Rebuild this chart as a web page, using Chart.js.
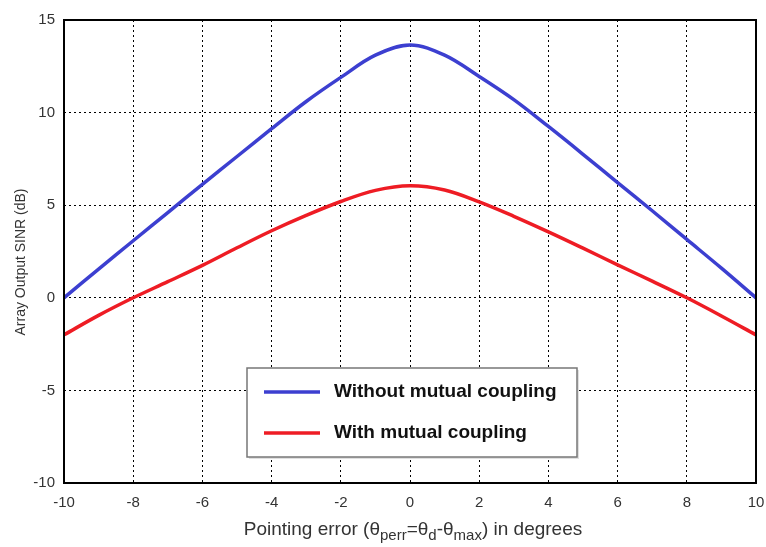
<!DOCTYPE html>
<html>
<head>
<meta charset="utf-8">
<script src="https://cdn.jsdelivr.net/npm/chart.js@4.4.0/dist/chart.umd.min.js"></script>
<style>
  html, body { margin: 0; padding: 0; background: #fff; }
  #wrap { width: 766px; height: 547px; }
</style>
</head>
<body>
<div id="wrap"><canvas id="sinrChart" width="766" height="547"></canvas></div>
<script>
// Dados
const pointingError = [-10, -9, -8, -7, -6, -5, -4, -3, -2, -1, 0, 1, 2, 3, 4, 5, 6, 7, 8, 9, 10];
const semAcoplamento = [0, 1.55, 3.08, 4.6, 6.13, 7.63, 9.13, 10.6, 11.9, 13.1, 13.65, 13.1, 11.95, 10.7, 9.25, 7.75, 6.22, 4.7, 3.15, 1.6, 0];
const comAcoplamento = [-2, -0.95, 0, 0.87, 1.75, 2.7, 3.62, 4.45, 5.2, 5.8, 6.05, 5.82, 5.18, 4.4, 3.56, 2.68, 1.78, 0.9, 0, -0.98, -2];
const xTicks = [-10, -8, -6, -4, -2, 0, 2, 4, 6, 8, 10];
const yTicks = [-10, -5, 0, 5, 10, 15];
const legendLabels = ['Without mutual coupling', 'With mutual coupling'];

const corAzul = '#3c3fd0';
const corVermelha = '#ee1c24';

function toPoints(ys) {
    return pointingError.map((x, i) => ({ x: x, y: ys[i] }));
}

// Plugin: moldura, títulos dos eixos e legenda interna
const extras = {
    id: 'extras',
    afterDatasetsDraw(chart) {
        const ctx = chart.ctx;
        const a = chart.chartArea;
        ctx.save();

        // moldura
        ctx.strokeStyle = '#000';
        ctx.lineWidth = 2;
        ctx.strokeRect(a.left, a.top, a.right - a.left, a.bottom - a.top);

        // título do eixo Y
        ctx.fillStyle = '#333';
        ctx.font = '14px "Liberation Sans", Arial, sans-serif';
        ctx.textAlign = 'center';
        ctx.textBaseline = 'middle';
        ctx.translate(21, 262);
        ctx.rotate(-Math.PI / 2);
        ctx.fillText('Array Output SINR (dB)', 0, 0);
        ctx.setTransform(1, 0, 0, 1, 0, 0);

        // título do eixo X com subscritos
        const partes = [
            ['Pointing error (θ', false], ['perr', true], ['=θ', false], ['d', true],
            ['-θ', false], ['max', true], [') in degrees', false]
        ];
        const fNormal = '19px "Liberation Sans", Arial, sans-serif';
        const fSub = '15px "Liberation Sans", Arial, sans-serif';
        let total = 0;
        partes.forEach(p => { ctx.font = p[1] ? fSub : fNormal; total += ctx.measureText(p[0]).width; });
        let x = 413 - total / 2;
        const yBase = 535;
        ctx.textAlign = 'left';
        ctx.textBaseline = 'alphabetic';
        partes.forEach(p => {
            ctx.font = p[1] ? fSub : fNormal;
            ctx.fillText(p[0], x, p[1] ? yBase + 5 : yBase);
            x += ctx.measureText(p[0]).width;
        });

        // legenda
        const bx = 247, by = 368, bw = 330, bh = 89;
        ctx.fillStyle = 'rgba(0,0,0,0.12)';
        ctx.fillRect(bx + 2, by + 2, bw, bh);
        ctx.fillStyle = '#fff';
        ctx.fillRect(bx, by, bw, bh);
        ctx.strokeStyle = '#777';
        ctx.lineWidth = 1.5;
        ctx.strokeRect(bx, by, bw, bh);
        const linhasY = [392, 433];
        chart.data.datasets.forEach((ds, i) => {
            ctx.strokeStyle = ds.borderColor;
            ctx.lineWidth = 3.5;
            ctx.beginPath();
            ctx.moveTo(264, linhasY[i]);
            ctx.lineTo(320, linhasY[i]);
            ctx.stroke();
            ctx.fillStyle = '#111';
            ctx.font = 'bold 19px "Liberation Sans", Arial, sans-serif';
            ctx.textBaseline = 'middle';
            ctx.fillText(ds.label, 334, linhasY[i]);
        });
        ctx.restore();
    }
};

const gridDotted = {
    display: true,
    color: '#000',
    lineWidth: 1,
    drawTicks: false
};

new Chart(document.getElementById('sinrChart'), {
    type: 'line',
    data: {
        datasets: [
            {
                label: legendLabels[0],
                data: toPoints(semAcoplamento),
                borderColor: corAzul,
                borderWidth: 3.5,
                pointRadius: 0,
                tension: 0.35,
                fill: false
            },
            {
                label: legendLabels[1],
                data: toPoints(comAcoplamento),
                borderColor: corVermelha,
                borderWidth: 3.5,
                pointRadius: 0,
                tension: 0.35,
                fill: false
            }
        ]
    },
    options: {
        responsive: false,
        animation: false,
        layout: { autoPadding: false, padding: { left: 0, top: 20, right: 10, bottom: 0 } },
        plugins: {
            legend: { display: false },
            tooltip: { enabled: false }
        },
        scales: {
            x: {
                type: 'linear',
                min: -10,
                max: 10,
                afterBuildTicks: s => { s.ticks = xTicks.map(v => ({ value: v })); },
                afterFit: s => { s.height = 64; s.paddingLeft = 0; s.paddingRight = 0; },
                grid: gridDotted,
                border: { display: false, dash: [2, 3] },
                ticks: {
                    padding: 11,
                    color: '#333',
                    font: { size: 15, family: '"Liberation Sans", Arial, sans-serif' },
                    maxRotation: 0
                }
            },
            y: {
                min: -10,
                max: 15,
                afterBuildTicks: s => { s.ticks = yTicks.map(v => ({ value: v })); },
                afterFit: s => { s.width = 64; s.paddingTop = 0; s.paddingBottom = 0; },
                grid: gridDotted,
                border: { display: false, dash: [2, 3] },
                ticks: {
                    padding: 9,
                    color: '#333',
                    font: { size: 15, family: '"Liberation Sans", Arial, sans-serif' }
                }
            }
        }
    },
    plugins: [extras]
});
</script>
</body>
</html>
